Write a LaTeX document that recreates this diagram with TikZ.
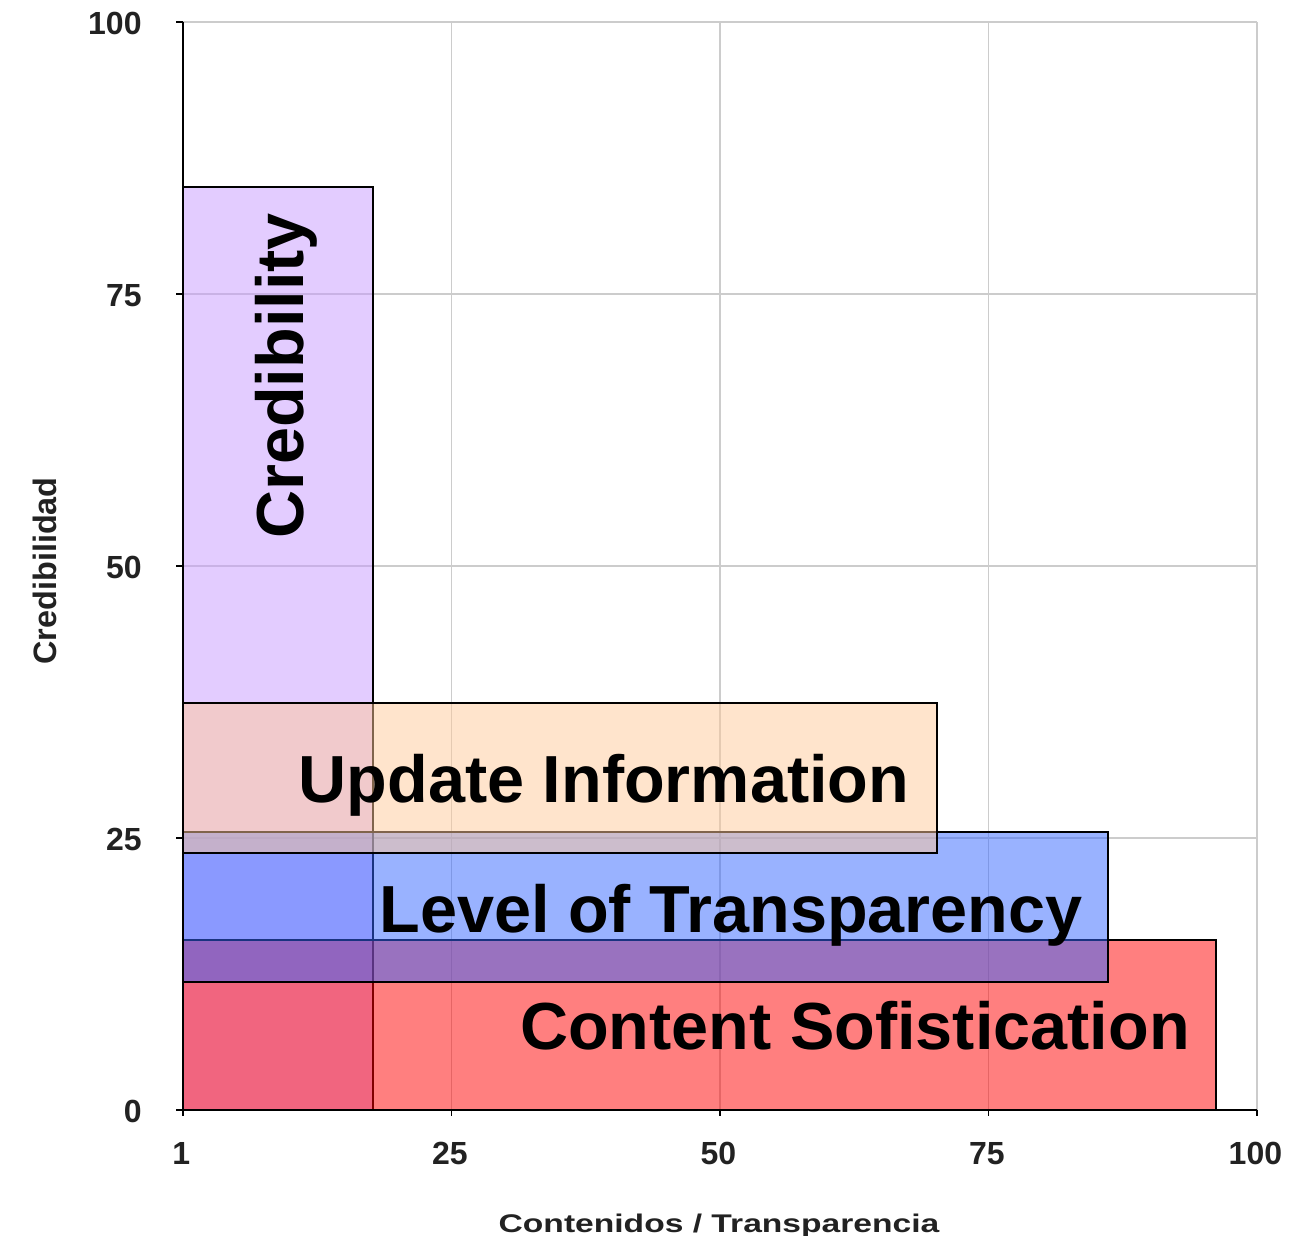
\documentclass[tikz,border=0pt]{standalone}
\usepackage{fontspec}
\setmainfont{Liberation Sans}
\usepackage{tikz}
\usetikzlibrary{positioning}
\definecolor{credfill}{HTML}{C799FF}
\definecolor{updfill}{HTML}{FFC999}
\definecolor{transfill}{HTML}{3366FF}
\definecolor{contfill}{HTML}{FF0000}
\definecolor{gridgray}{HTML}{CCCCCC}
\definecolor{axistext}{HTML}{222222}
\tikzstyle{bar} = [draw=black, line width=1pt, fill opacity=0.5]
\tikzstyle{gridline} = [gridgray, line width=0.75pt]
\tikzstyle{axisline} = [black, line width=0.8pt]
\tikzstyle{barlabel} = [font=\fontsize{33.3}{36}\selectfont\bfseries, inner sep=0pt, anchor=base]
\tikzstyle{ticklabel} = [font=\fontsize{16}{18}\selectfont\bfseries, text=axistext, inner sep=0pt]
\tikzstyle{axistitle} = [font=\fontsize{16.5}{18}\selectfont\bfseries, text=axistext, inner sep=0pt, anchor=base]

\begin{document}
\begin{tikzpicture}[x=5.37pt, y=5.44pt]
\useasboundingbox (-91.5pt,-63pt) rectangle (554.5pt,555pt);

% grid
\foreach \v in {25,50,75,100} {
  \draw[gridline] (\v,0) -- (\v,100);
  \draw[gridline] (0,\v) -- (100,\v);
}

% axes and ticks
\draw[axisline] (0,100) -- (0,0) -- (100,0);
\foreach \v in {0,25,50,75,100} {
  \draw[axisline] (0,\v) -- ++(-3.5pt,0);
  \draw[axisline] (\v,0) -- ++(0,-3pt);
  \node[ticklabel, anchor=east, xshift=-20.5pt, yshift=-0.8pt] (ytick\v) at (0,\v) {\v};
}
\foreach \v/\lab in {0/1,25/25,50/50,75/75,100/100}
  \node[ticklabel, anchor=base, yshift=-27.5pt, xshift=-0.8pt] (xtick\v) at (\v,0) {\lab};

% bars
\draw[bar, fill=credfill] (0,0) rectangle (17.7,84.8);
\draw[bar, fill=contfill] (0,0) rectangle (96.2,15.6);
\draw[bar, fill=transfill] (0,11.8) rectangle (86.1,25.55);
\draw[bar, fill=updfill] (0,23.6) rectangle (70.2,37.4);

% labels
\node[barlabel, rotate=90] (credlabel) at (60pt,367pt) {Credibility};
\node[barlabel] (updlabel) at (210.5pt,153.5pt) {Update Information};
\node[barlabel] (translabel) at (274pt,88.5pt) {Level of Transparency};
\node[barlabel] (contlabel) at (336pt,30pt) {Content Sofistication};

% axis titles
\node[axistitle, rotate=90, font=\fontsize{16.2}{18}\selectfont\bfseries] (ytitle) at (-63pt,269.5pt) {Credibilidad};
\node[axistitle, yscale=0.76, font=\fontsize{16.8}{18}\selectfont\bfseries] (xtitle) at (268pt,-61.5pt) {Contenidos / Transparencia};
\end{tikzpicture}
\end{document}
